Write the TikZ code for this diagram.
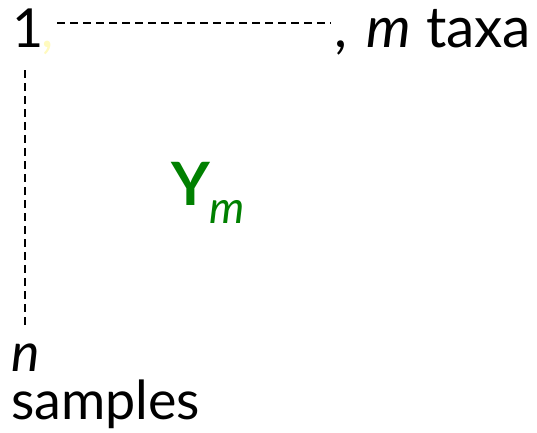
\documentclass[tikz,border=0pt]{standalone}
\usepackage{fontspec}
\setmainfont{Lato}
\usepackage{tikz}
\usetikzlibrary{positioning}
\definecolor{taxagreen}{RGB}{0,128,0}
\definecolor{paleyellow}{RGB}{255,250,190}
\tikzset{
  lbl/.style={anchor=base west, inner sep=0pt, outer sep=0pt, font=\fontsize{54}{45}\selectfont},
  dashrule/.style={line width=1.2bp, dash pattern=on 8bp off 5bp},
}

\begin{document}
\begin{tikzpicture}[x=1bp, y=-1bp]
    \useasboundingbox (0,0) rectangle (537,432);
    \node[lbl] (one) at (12,47) {1};
    \node[lbl, text=paleyellow] (comma) at (41,47) {,};
    \node[lbl, font=\fontsize{57}{45}\selectfont] (taxa) at (334,47) {,\hspace{0.35em}\textit{m} taxa};
    \node[lbl, align=left, font=\fontsize{54}{48}\selectfont] (samples) at (11,419) {\textit{n}\\samples};
    \node[lbl, text=taxagreen] (Y) at (171,205)
        {{\fontsize{60}{60}\selectfont\bfseries Y}\raisebox{-18bp}{\fontsize{45}{45}\selectfont\itshape m}};

    \coordinate (top start) at (57,23);
    \coordinate (top end) at (331,23);
    \coordinate (left start) at (25,70);
    \coordinate (left end) at (25,326);
    \draw[dashrule] (top start) -- (top end);
    \draw[dashrule] (left start) -- (left end);
\end{tikzpicture}
\end{document}
